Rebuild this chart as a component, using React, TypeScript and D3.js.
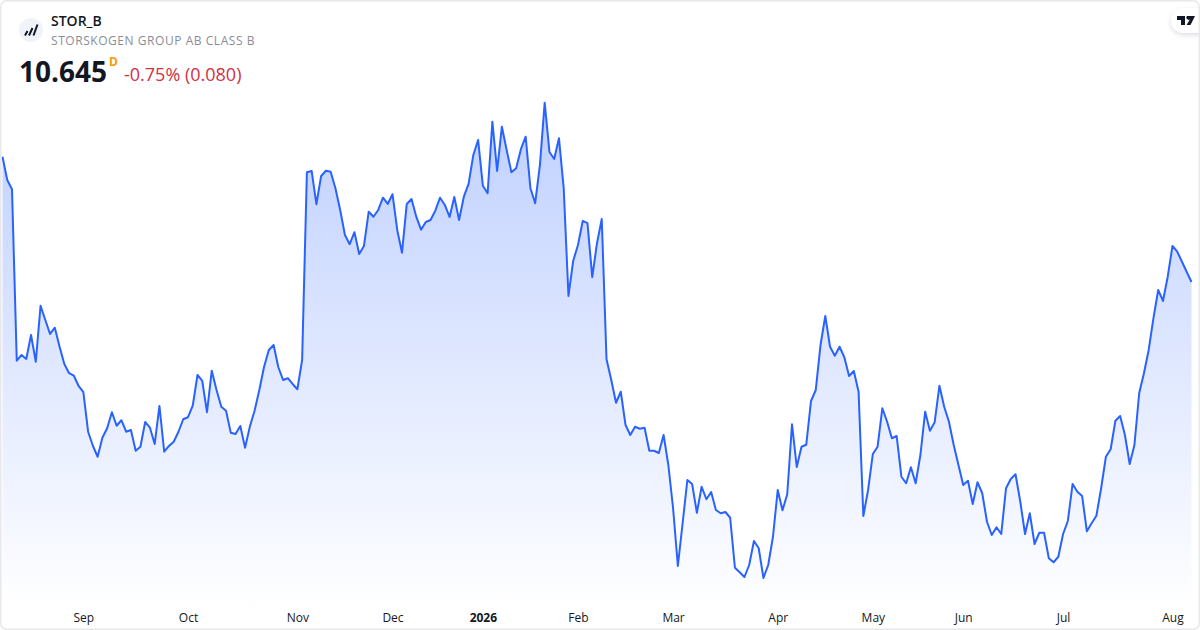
import { useEffect, useRef } from "react";
import * as d3 from "d3";

const WIDTH = 1200;
const HEIGHT = 630;
const FONT = "'Open Sans', sans-serif";

const closes = [
  11.647, 11.461, 11.387, 10.015, 10.061, 10.029, 10.221, 10.007, 10.455, 10.341,
  10.229, 10.279, 10.127, 9.989, 9.915, 9.895, 9.813, 9.763, 9.447, 9.335,
  9.247, 9.399, 9.475, 9.603, 9.495, 9.539, 9.447, 9.461, 9.295, 9.327,
  9.525, 9.479, 9.349, 9.653, 9.287, 9.333, 9.367, 9.447, 9.547, 9.563,
  9.655, 9.901, 9.853, 9.603, 9.935, 9.781, 9.647, 9.615, 9.439, 9.429,
  9.493, 9.319, 9.487, 9.615, 9.781, 9.967, 10.101, 10.141, 9.963, 9.861,
  9.875, 9.829, 9.787, 10.021, 11.523, 11.533, 11.267, 11.493, 11.535, 11.527,
  11.395, 11.221, 11.021, 10.947, 11.043, 10.869, 10.933, 11.207, 11.167, 11.221,
  11.319, 11.269, 11.347, 11.061, 10.879, 11.269, 11.309, 11.167, 11.063, 11.125,
  11.141, 11.215, 11.319, 11.261, 11.165, 11.325, 11.141, 11.327, 11.429, 11.661,
  11.781, 11.415, 11.355, 11.927, 11.533, 11.887, 11.701, 11.523, 11.555, 11.707,
  11.807, 11.395, 11.275, 11.581, 12.079, 11.685, 11.629, 11.795, 11.395, 10.533,
  10.815, 10.941, 11.133, 11.115, 10.683, 10.955, 11.149, 10.027, 9.861, 9.679,
  9.767, 9.501, 9.421, 9.487, 9.471, 9.479, 9.295, 9.295, 9.277, 9.421,
  9.181, 8.835, 8.373, 8.715, 9.061, 9.029, 8.799, 9.007, 8.907, 8.965,
  8.821, 8.795, 8.805, 8.759, 8.359, 8.323, 8.285, 8.381, 8.573, 8.515,
  8.277, 8.381, 8.607, 8.981, 8.819, 8.947, 9.507, 9.165, 9.327, 9.343,
  9.693, 9.781, 10.141, 10.373, 10.127, 10.055, 10.127, 10.043, 9.893, 9.933,
  9.767, 8.773, 8.981, 9.269, 9.327, 9.635, 9.527, 9.395, 9.413, 9.087,
  9.035, 9.163, 9.035, 9.261, 9.607, 9.455, 9.523, 9.815, 9.647, 9.527,
  9.341, 9.181, 9.021, 9.055, 8.869, 9.043, 8.955, 8.727, 8.621, 8.683,
  8.629, 8.995, 9.069, 9.107, 8.887, 8.629, 8.795, 8.549, 8.639, 8.639,
  8.435, 8.403, 8.447, 8.629, 8.733, 9.029, 8.967, 8.933, 8.651, 8.715,
  8.775, 8.995, 9.247, 9.307, 9.535, 9.573, 9.421, 9.189, 9.341, 9.755,
  9.915, 10.101, 10.355, 10.581, 10.493, 10.687, 10.933, 10.887, 10.807, 10.725,
  10.645,
];

// bar index of the first session of each month
const tickBars = [17, 39, 62, 82, 101, 121, 141, 163, 183, 202, 223, 246];
const tickLabels = ["Sep", "Oct", "Nov", "Dec", "2026", "Feb", "Mar", "Apr", "May", "Jun", "Jul", "Aug"];

export default function App() {
  const svgRef = useRef<SVGSVGElement>(null);

  useEffect(() => {
    if (!svgRef.current) return;

    const svg = d3.select(svgRef.current);
    svg.selectAll("*").remove();

    const x = d3.scaleLinear().domain([0, closes.length - 1]).range([2.5, 1191.5]);
    const y = d3.scaleLinear().domain([8.277, 12.079]).range([578, 102.7]);

    const defs = svg.append("defs");
    const grad = defs
      .append("linearGradient")
      .attr("id", "fill")
      .attr("gradientUnits", "userSpaceOnUse")
      .attr("x1", 0).attr("x2", 0)
      .attr("y1", 102).attr("y2", 610);
    grad.append("stop").attr("offset", 0).attr("stop-color", "#2962ff").attr("stop-opacity", 0.3);
    grad.append("stop").attr("offset", 1).attr("stop-color", "#2962ff").attr("stop-opacity", 0);

    const shadow = defs.append("filter").attr("id", "tab-shadow")
      .attr("x", "-30%").attr("y", "-30%").attr("width", "160%").attr("height", "170%");
    shadow.append("feDropShadow")
      .attr("dx", 0).attr("dy", 2).attr("stdDeviation", 2.5)
      .attr("flood-color", "#131722").attr("flood-opacity", 0.14);

    const clip = defs.append("clipPath").attr("id", "frame");
    clip.append("rect").attr("width", WIDTH).attr("height", HEIGHT).attr("rx", 6);

    svg.append("rect")
      .attr("width", WIDTH).attr("height", HEIGHT)
      .attr("fill", "#fff");

    const plot = svg.append("g").attr("clip-path", "url(#frame)");

    plot.append("path")
      .datum(closes)
      .attr("fill", "url(#fill)")
      .attr(
        "d",
        d3.area<number>()
          .x((_, i) => x(i))
          .y0(610)
          .y1((d) => y(d))
      );

    plot.append("path")
      .datum(closes)
      .attr("fill", "none")
      .attr("stroke", "#2962ff")
      .attr("stroke-width", 2)
      .attr("stroke-linejoin", "round")
      .attr(
        "d",
        d3.line<number>()
          .x((_, i) => x(i))
          .y((d) => y(d))
      );

    const axis = plot.append("g")
      .attr("transform", "translate(0,617.5)")
      .call(
        d3.axisBottom(x)
          .tickValues(tickBars)
          .tickFormat((_, i) => tickLabels[i])
          .tickSize(0)
          .tickPadding(0)
      )
      .call((a) => a.select(".domain").remove());
    axis.selectAll("text")
      .attr("dy", "0.35em")
      .style("font-family", FONT)
      .style("font-size", "12px")
      .style("fill", "#131722")
      .style("font-weight", (_, i) => (tickLabels[i] === "2026" ? 700 : 400));

    // top right tab with the logo
    plot.append("rect")
      .attr("x", 1171).attr("y", 8)
      .attr("width", 50).attr("height", 25)
      .attr("rx", 12.5)
      .attr("fill", "#fff")
      .attr("filter", "url(#tab-shadow)");
    plot.append("path")
      .attr("fill", "#131722")
      .attr("transform", "translate(1177,16)")
      .attr("d", "M0 0H8V9H4V4H0Z M10 0H18L13.5 9H9.5L13 3.2A1.7 1.7 0 1 1 10 0Z");

    svg.append("rect")
      .attr("x", 0.75).attr("y", 0.75)
      .attr("width", WIDTH - 1.5).attr("height", HEIGHT - 1.5)
      .attr("rx", 6)
      .attr("fill", "none")
      .attr("stroke", "#e8e8ea")
      .attr("stroke-width", 1.5);

    // header
    const head = svg.append("g").style("font-family", FONT);

    head.append("circle").attr("cx", 31).attr("cy", 30).attr("r", 12).attr("fill", "#f0f3fa");
    head.append("path")
      .attr("stroke", "#131722")
      .attr("stroke-width", 2)
      .attr("fill", "none")
      .attr("d", "M25 35.5L27.5 31 M29 35.5L32.5 28 M33.5 35.5L37.5 24.5");

    head.append("text")
      .attr("x", 51).attr("y", 26)
      .attr("font-size", 14).attr("font-weight", 600)
      .attr("fill", "#131722")
      .text("STOR_B");
    head.append("text")
      .attr("x", 51).attr("y", 45)
      .attr("font-size", 12).attr("letter-spacing", 0.55)
      .attr("fill", "#8a8d96")
      .text("STORSKOGEN GROUP AB CLASS B");
    head.append("text")
      .attr("x", 19).attr("y", 82)
      .attr("font-size", 28).attr("font-weight", 700)
      .attr("fill", "#131722")
      .text("10.645");
    head.append("text")
      .attr("x", 109).attr("y", 66)
      .attr("font-size", 12).attr("font-weight", 700)
      .attr("fill", "#ff9800")
      .text("D");
    head.append("text")
      .attr("x", 124).attr("y", 81)
      .attr("font-size", 18)
      .attr("fill", "#d32f45")
      .text("-0.75% (0.080)");
  }, []);

  return (
    <svg
      ref={svgRef}
      width={WIDTH}
      height={HEIGHT}
      style={{ position: "absolute", left: 0, top: 0 }}
    />
  );
}
